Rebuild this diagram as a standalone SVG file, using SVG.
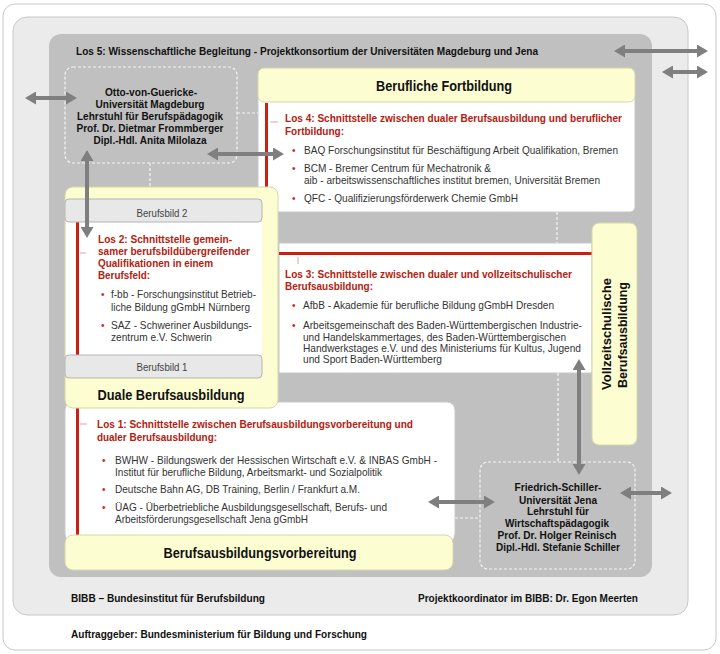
<svg xmlns="http://www.w3.org/2000/svg" width="720" height="654" viewBox="0 0 720 654">
<defs>
<style>
text{font-family:"Liberation Sans",Arial,sans-serif}
.body{font-size:10.5px;fill:#333}
.head{font-size:10.5px;font-weight:bold;fill:#b5200e}
.bold{font-size:10.5px;font-weight:bold;fill:#111}
.title{font-size:14.5px;font-weight:bold;fill:#111}
.lbl{font-size:10.5px;fill:#444}
.bul{font-size:10px;fill:#c8281a}
.yellow{fill:#fdfdd2;stroke:#d6d6ad;stroke-width:1}
.white{fill:#fff;stroke:#c8c8c8;stroke-width:1}
.bbild{fill:#e8e8e8;stroke:#b4b4b4;stroke-width:1}
.red{fill:#cc1f10}
.tick{stroke:#d9a3a0;stroke-width:1}
.dash{fill:none;stroke:#f4f4f4;stroke-width:1.2;stroke-dasharray:3 2}
.arr{fill:none;stroke:#7f7f7f;stroke-width:4;marker-start:url(#ah);marker-end:url(#ah)}
</style>
<marker id="ah" markerUnits="userSpaceOnUse" markerWidth="11" markerHeight="13" viewBox="0 0 11 13" refX="5" refY="6.5" orient="auto-start-reverse">
<path d="M0,0 L11,6.5 L0,13 z" fill="#7f7f7f"/>
</marker>
</defs>

<g id="frame">
<rect x="3" y="4" width="713" height="646" rx="12" fill="#fff" stroke="#c8c8c8"/>
<rect x="13" y="17" width="675" height="598" rx="14" fill="#ebebeb" stroke="#c8c8c8"/>
<rect x="49" y="34" width="603" height="543" rx="12" fill="#c0c0c0"/>
</g>

<g id="los5">
<text class="bold" x="76" y="55" textLength="462" lengthAdjust="spacingAndGlyphs">Los 5: Wissenschaftliche Begleitung - Projektkonsortium der Universitäten Magdeburg und Jena</text>
</g>

<g id="magdeburg">
<rect class="dash" x="65" y="67" width="172" height="96" rx="8"/>
<text class="bold" text-anchor="middle" x="151" y="96" textLength="92" lengthAdjust="spacingAndGlyphs">Otto-von-Guericke-</text>
<text class="bold" text-anchor="middle" x="150" y="108" textLength="109" lengthAdjust="spacingAndGlyphs">Universität Magdeburg</text>
<text class="bold" text-anchor="middle" x="150" y="120" textLength="146" lengthAdjust="spacingAndGlyphs">Lehrstuhl für Berufspädagogik</text>
<text class="bold" text-anchor="middle" x="150" y="132" textLength="147" lengthAdjust="spacingAndGlyphs">Prof. Dr. Dietmar Frommberger</text>
<text class="bold" text-anchor="middle" x="150" y="144" textLength="113" lengthAdjust="spacingAndGlyphs">Dipl.-Hdl. Anita Milolaza</text>
</g>

<g id="fortbildung">
<rect class="white" x="258" y="94" width="377" height="118" rx="5"/>
<rect class="yellow" x="258" y="68" width="377" height="34" rx="6"/>
<text class="title" text-anchor="middle" x="444" y="91" textLength="136" lengthAdjust="spacingAndGlyphs">Berufliche Fortbildung</text>
<rect class="red" x="265" y="103" width="3" height="108"/>
<line class="tick" x1="270" y1="122" x2="278" y2="122"/>
<text class="head" x="285" y="122" textLength="337" lengthAdjust="spacingAndGlyphs">Los 4: Schnittstelle zwischen dualer Berufsausbildung und beruflicher</text>
<text class="head" x="285" y="135" textLength="59" lengthAdjust="spacingAndGlyphs">Fortbildung:</text>
<text class="bul" x="292" y="154">•</text>
<text class="body" x="304" y="154" textLength="314" lengthAdjust="spacingAndGlyphs">BAQ Forschungsinstitut für Beschäftigung Arbeit Qualifikation, Bremen</text>
<text class="bul" x="292" y="172">•</text>
<text class="body" x="304" y="172" textLength="187" lengthAdjust="spacingAndGlyphs">BCM - Bremer Centrum für Mechatronik &amp;</text>
<text class="body" x="304" y="184" textLength="296" lengthAdjust="spacingAndGlyphs">aib - arbeitswissenschaftliches institut bremen, Universität Bremen</text>
<text class="bul" x="292" y="202">•</text>
<text class="body" x="304" y="202" textLength="214" lengthAdjust="spacingAndGlyphs">QFC - Qualifizierungsförderwerk Chemie GmbH</text>
</g>

<g id="los3">
<rect class="white" x="279" y="243" width="313" height="130"/>
<rect class="red" x="279" y="252" width="313" height="3"/>
<line class="tick" x1="298" y1="257" x2="298" y2="264"/>
<text class="head" x="285" y="278" textLength="287" lengthAdjust="spacingAndGlyphs">Los 3: Schnittstelle zwischen dualer und vollzeitschulischer</text>
<text class="head" x="285" y="290" textLength="88" lengthAdjust="spacingAndGlyphs">Berufsausbildung:</text>
<text class="bul" x="292" y="309">•</text>
<text class="body" x="303" y="309" textLength="251" lengthAdjust="spacingAndGlyphs">AfbB - Akademie für berufliche Bildung gGmbH Dresden</text>
<text class="bul" x="292" y="329">•</text>
<text class="body" x="303" y="329" textLength="279" lengthAdjust="spacingAndGlyphs">Arbeitsgemeinschaft des Baden-Württembergischen Industrie-</text>
<text class="body" x="303" y="341" textLength="263" lengthAdjust="spacingAndGlyphs">und Handelskammertages, des Baden-Württembergischen</text>
<text class="body" x="303" y="352" textLength="278" lengthAdjust="spacingAndGlyphs">Handwerkstages e.V. und des Ministeriums für Kultus, Jugend</text>
<text class="body" x="303" y="363" textLength="139" lengthAdjust="spacingAndGlyphs">und Sport Baden-Württemberg</text>
</g>

<g id="vollzeit">
<rect class="yellow" x="592" y="223" width="45" height="222" rx="7"/>
<text class="bold" style="font-size:12.5px" text-anchor="middle" transform="translate(611,334) rotate(-90)" textLength="112" lengthAdjust="spacingAndGlyphs">Vollzeitschulische</text>
<text class="bold" style="font-size:12.5px" text-anchor="middle" transform="translate(627,335) rotate(-90)" textLength="106" lengthAdjust="spacingAndGlyphs">Berufsausbildung</text>
</g>

<g id="los1">
<rect class="white" x="65" y="402" width="390" height="140" rx="8"/>
<rect class="red" x="76" y="408" width="3" height="128"/>
<line class="tick" x1="80" y1="424" x2="87" y2="424"/>
<text class="head" x="97" y="428" textLength="316" lengthAdjust="spacingAndGlyphs">Los 1: Schnittstelle zwischen Berufsausbildungsvorbereitung und</text>
<text class="head" x="97" y="441" textLength="120" lengthAdjust="spacingAndGlyphs">dualer Berufsausbildung:</text>
<text class="bul" x="102" y="464">•</text>
<text class="body" x="115" y="464" textLength="322" lengthAdjust="spacingAndGlyphs">BWHW - Bildungswerk der Hessischen Wirtschaft e.V. &amp; INBAS GmbH -</text>
<text class="body" x="115" y="476" textLength="267" lengthAdjust="spacingAndGlyphs">Institut für berufliche Bildung, Arbeitsmarkt- und Sozialpolitik</text>
<text class="bul" x="102" y="493">•</text>
<text class="body" x="115" y="493" textLength="245" lengthAdjust="spacingAndGlyphs">Deutsche Bahn AG, DB Training, Berlin / Frankfurt a.M.</text>
<text class="bul" x="102" y="511">•</text>
<text class="body" x="115" y="511" textLength="272" lengthAdjust="spacingAndGlyphs">ÜAG - Überbetriebliche Ausbildungsgesellschaft, Berufs- und</text>
<text class="body" x="115" y="523" textLength="193" lengthAdjust="spacingAndGlyphs">Arbeitsförderungsgesellschaft Jena gGmbH</text>
</g>

<g id="duale">
<rect class="yellow" x="65" y="187" width="213" height="221" rx="8"/>
<rect x="66" y="222" width="196" height="133" fill="#fff"/>
<rect class="red" x="76" y="222" width="3" height="133"/>
<rect class="bbild" x="65" y="199" width="197" height="23" rx="4"/>
<text class="lbl" text-anchor="middle" x="162" y="217" textLength="51" lengthAdjust="spacingAndGlyphs">Berufsbild 2</text>
<line class="tick" x1="80" y1="253" x2="86" y2="253"/>
<text class="head" x="98" y="243" textLength="134" lengthAdjust="spacingAndGlyphs">Los 2: Schnittstelle gemein-</text>
<text class="head" x="98" y="255" textLength="152" lengthAdjust="spacingAndGlyphs">samer berufsbildübergreifender</text>
<text class="head" x="98" y="267" textLength="115" lengthAdjust="spacingAndGlyphs">Qualifikationen in einem</text>
<text class="head" x="98" y="279" textLength="52" lengthAdjust="spacingAndGlyphs">Berufsfeld:</text>
<text class="bul" x="101" y="298">•</text>
<text class="body" x="111" y="298" textLength="145" lengthAdjust="spacingAndGlyphs">f-bb - Forschungsinstitut Betrieb-</text>
<text class="body" x="111" y="311" textLength="139" lengthAdjust="spacingAndGlyphs">liche Bildung gGmbH Nürnberg</text>
<text class="bul" x="101" y="329">•</text>
<text class="body" x="111" y="329" textLength="141" lengthAdjust="spacingAndGlyphs">SAZ - Schweriner Ausbildungs-</text>
<text class="body" x="111" y="341" textLength="101" lengthAdjust="spacingAndGlyphs">zentrum e.V. Schwerin</text>
<rect class="bbild" x="65" y="355" width="197" height="23" rx="4"/>
<text class="lbl" text-anchor="middle" x="162" y="371" textLength="51" lengthAdjust="spacingAndGlyphs">Berufsbild 1</text>
<text class="title" text-anchor="middle" x="171" y="400" textLength="147" lengthAdjust="spacingAndGlyphs">Duale Berufsausbildung</text>
</g>

<g id="vorbereitung">
<rect class="yellow" x="65" y="535" width="388" height="35" rx="8"/>
<text class="title" text-anchor="middle" x="260" y="558" textLength="193" lengthAdjust="spacingAndGlyphs">Berufsausbildungsvorbereitung</text>
</g>

<g id="jena">
<rect class="dash" x="480" y="462" width="155" height="107" rx="8"/>
<text class="bold" text-anchor="middle" x="558" y="491" textLength="87" lengthAdjust="spacingAndGlyphs">Friedrich-Schiller-</text>
<text class="bold" text-anchor="middle" x="558" y="504" textLength="78" lengthAdjust="spacingAndGlyphs">Universität Jena</text>
<text class="bold" text-anchor="middle" x="558" y="515" textLength="62" lengthAdjust="spacingAndGlyphs">Lehrstuhl für</text>
<text class="bold" text-anchor="middle" x="557" y="527" textLength="104" lengthAdjust="spacingAndGlyphs">Wirtschaftspädagogik</text>
<text class="bold" text-anchor="middle" x="557" y="539" textLength="119" lengthAdjust="spacingAndGlyphs">Prof. Dr. Holger Reinisch</text>
<text class="bold" text-anchor="middle" x="558" y="551" textLength="124" lengthAdjust="spacingAndGlyphs">Dipl.-Hdl. Stefanie Schiller</text>
</g>

<g id="footer">
<text class="bold" x="71" y="602" textLength="194" lengthAdjust="spacingAndGlyphs">BIBB – Bundesinstitut für Berufsbildung</text>
<text class="bold" x="418" y="602" textLength="220" lengthAdjust="spacingAndGlyphs">Projektkoordinator im BIBB: Dr. Egon Meerten</text>
<text class="bold" x="71" y="638" textLength="296" lengthAdjust="spacingAndGlyphs">Auftraggeber: Bundesministerium für Bildung und Forschung</text>
</g>

<g id="connectors">
<line class="dash" x1="237" y1="113" x2="258" y2="113"/>
<line class="dash" x1="150" y1="163" x2="150" y2="187"/>
<line class="dash" x1="557" y1="212" x2="557" y2="243"/>
<line class="dash" x1="558" y1="373" x2="558" y2="462"/>
<line class="dash" x1="455" y1="518" x2="480" y2="518"/>
<line class="arr" x1="620" y1="51" x2="702" y2="51"/>
<line class="arr" x1="668" y1="72" x2="702" y2="72"/>
<line class="arr" x1="31" y1="98" x2="71" y2="98"/>
<line class="arr" x1="213" y1="154" x2="278" y2="154"/>
<line class="arr" x1="87" y1="156" x2="87" y2="232"/>
<line class="arr" x1="579" y1="365" x2="579" y2="469"/>
<line class="arr" x1="434" y1="502" x2="489" y2="502"/>
<line class="arr" x1="626" y1="493" x2="666" y2="493"/>
</g>
</svg>
